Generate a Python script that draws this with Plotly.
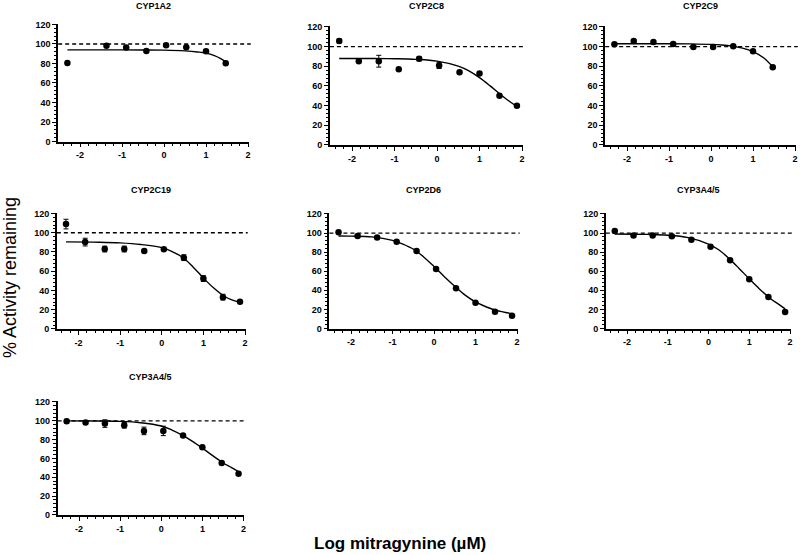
import plotly.graph_objects as go

# ---------------- data ----------------
panel_names = ["CYP1A2", "CYP2C8", "CYP2C9", "CYP2C19", "CYP2D6", "CYP3A4/5", "CYP3A4/5"]

cyp1a2_x = [-2.3, -1.37, -0.9, -0.42, 0.05, 0.53, 1.0, 1.47]
cyp1a2_y = [80.6, 98.1, 96.3, 92.9, 98.7, 96.7, 92.6, 80.2]
cyp1a2_err = [0, 0, 0, 0, 0, 0, 1.5, 0]
cyp1a2_fit_x = [-2.3, -1.5, -1.0, -0.5, 0.0, 0.5, 0.8, 1.0, 1.2, 1.35, 1.49]
cyp1a2_fit_y = [94, 94, 94, 93.9, 93.7, 92.9, 91.8, 90.6, 88.0, 85.0, 81.0]

cyp2c8_x = [-2.3, -1.84, -1.37, -0.9, -0.42, 0.05, 0.53, 1.0, 1.47, 1.88]
cyp2c8_y = [105.8, 85.2, 85.2, 77.1, 87.6, 80.8, 74.0, 72.7, 50.0, 39.9]
cyp2c8_err = [2, 0, 6, 0, 2, 3, 0, 0, 0, 0]
cyp2c8_fit_x = [-2.3, -1.5, -1.0, -0.5, 0.0, 0.5, 0.75, 1.0, 1.25, 1.5, 1.7, 1.88]
cyp2c8_fit_y = [88.0, 87.9, 87.7, 87.1, 85.3, 80.2, 75.4, 68.5, 60.1, 51.1, 44.5, 39.3]

cyp2c9_x = [-2.3, -1.84, -1.37, -0.9, -0.42, 0.05, 0.53, 1.0, 1.47]
cyp2c9_y = [102.4, 105.8, 104.8, 102.8, 99.7, 99.7, 100.4, 95.3, 79.1]
cyp2c9_err = [0, 1.5, 0, 1.5, 0, 0, 0, 0, 0]
cyp2c9_fit_x = [-2.3, -1.5, -1.0, -0.5, 0.0, 0.25, 0.5, 0.75, 1.0, 1.25, 1.48]
cyp2c9_fit_y = [103, 103, 103, 102.8, 102.3, 101.7, 100.6, 98.5, 95.0, 88.7, 79.0]

cyp2c19_x = [-2.3, -1.84, -1.37, -0.9, -0.42, 0.05, 0.53, 1.0, 1.47, 1.88]
cyp2c19_y = [109.0, 90.3, 83.1, 83.1, 81.0, 82.8, 74.1, 52.4, 33.1, 28.3]
cyp2c19_err = [5, 4, 3, 3, 0, 0, 3, 3, 3, 0]
cyp2c19_fit_x = [-2.3, -1.5, -1.0, -0.5, 0.0, 0.25, 0.5, 0.75, 1.0, 1.25, 1.5, 1.7, 1.88]
cyp2c19_fit_y = [90.5, 90.2, 89.5, 87.8, 84.5, 80.5, 74.5, 64.5, 53.0, 42.5, 34.0, 30.0, 28.0]

cyp2d6_x = [-2.3, -1.84, -1.37, -0.9, -0.42, 0.05, 0.53, 1.0, 1.47, 1.88]
cyp2d6_y = [100.8, 96.9, 95.5, 91.0, 81.2, 62.3, 42.3, 26.9, 17.5, 13.3]
cyp2d6_err = [0, 0, 0, 0, 0, 0, 0, 0, 0, 0]
cyp2d6_fit_x = [-2.3, -2.0, -1.5, -1.0, -0.75, -0.5, -0.25, 0.0, 0.25, 0.5, 0.75, 1.0, 1.25, 1.5, 1.88]
cyp2d6_fit_y = [97.0, 96.8, 96.0, 92.3, 88.5, 83.3, 75.0, 65.0, 54.3, 44.3, 35.0, 27.8, 22.8, 19.0, 15.5]

cyp3a4_x = [-2.3, -1.84, -1.37, -0.9, -0.42, 0.05, 0.53, 1.0, 1.47, 1.88]
cyp3a4_y = [102.1, 97.5, 97.5, 96.8, 93.0, 85.6, 71.6, 51.6, 33.0, 17.2]
cyp3a4_err = [0, 0, 0, 0, 0, 0, 0, 0, 0, 0]
cyp3a4_fit_x = [-2.3, -1.5, -1.0, -0.5, 0.0, 0.25, 0.5, 0.75, 1.0, 1.25, 1.5, 1.7, 1.88]
cyp3a4_fit_y = [99.0, 98.6, 97.8, 95.2, 88.5, 82.5, 73.5, 63.0, 52.0, 41.5, 32.0, 26.0, 20.5]

cyp3a4b_x = [-2.3, -1.84, -1.37, -0.9, -0.42, 0.05, 0.53, 1.0, 1.47, 1.88]
cyp3a4b_y = [99.5, 98.1, 97.1, 95.3, 89.3, 89.3, 84.4, 72.0, 55.1, 43.8]
cyp3a4b_err = [2, 1.5, 4, 3, 4, 5, 0, 0, 0, 0]
cyp3a4b_fit_x = [-2.3, -1.5, -1.0, -0.5, 0.0, 0.25, 0.5, 0.75, 1.0, 1.25, 1.5, 1.7, 1.88]
cyp3a4b_fit_y = [100.0, 99.8, 99.4, 98.0, 94.5, 90.5, 85.0, 78.5, 71.0, 63.0, 55.5, 50.5, 46.0]

reference_level = 100
x_ticks = [-2, -1, 0, 1, 2]
y_ticks = [0, 20, 40, 60, 80, 100, 120]

panels = [
    (cyp1a2_x, cyp1a2_y, cyp1a2_err, cyp1a2_fit_x, cyp1a2_fit_y),
    (cyp2c8_x, cyp2c8_y, cyp2c8_err, cyp2c8_fit_x, cyp2c8_fit_y),
    (cyp2c9_x, cyp2c9_y, cyp2c9_err, cyp2c9_fit_x, cyp2c9_fit_y),
    (cyp2c19_x, cyp2c19_y, cyp2c19_err, cyp2c19_fit_x, cyp2c19_fit_y),
    (cyp2d6_x, cyp2d6_y, cyp2d6_err, cyp2d6_fit_x, cyp2d6_fit_y),
    (cyp3a4_x, cyp3a4_y, cyp3a4_err, cyp3a4_fit_x, cyp3a4_fit_y),
    (cyp3a4b_x, cyp3a4b_y, cyp3a4b_err, cyp3a4b_fit_x, cyp3a4b_fit_y),
]

# ---------------- layout (pixel geometry) ----------------
W, H = 800, 555
XMIN, XMAX = -2.52, 2.02
YMIN, YMAX = 0, 121
# pixel of x=-2, x=2, y=120, y=0 ; title centre y
geom = [
    (80.0, 248.0, 24.5, 141.5, 6),
    (352.0, 522.0, 27.0, 145.0, 6),
    (627.0, 795.0, 27.0, 145.0, 6),
    (78.5, 245.0, 213.5, 329.0, 190),
    (351.0, 517.0, 214.0, 328.5, 190),
    (627.0, 790.0, 214.0, 328.5, 190),
    (79.0, 243.5, 402.0, 515.0, 377),
]

FONT = "Liberation Sans, Arial, Helvetica, sans-serif"
fig = go.Figure()
annotations = []
shapes = []

for i, ((px, py, pe, fx, fy), (pm2, pp2, ytop, ybot, ty)) in enumerate(zip(panels, geom)):
    n = "" if i == 0 else str(i + 1)
    ppu = (pp2 - pm2) / 4.0
    left = pm2 + (XMIN + 2) * ppu
    right = pp2 + (XMAX - 2) * ppu
    ppy = (ybot - ytop) / 120.0
    top = ybot - YMAX * ppy
    xd = [left / W, right / W]
    yd = [1 - ybot / H, 1 - top / H]

    fig.add_trace(go.Scatter(
        x=fx, y=fy, mode="lines", line=dict(color="black", width=1.4, shape="spline"),
        xaxis="x" + n, yaxis="y" + n, hoverinfo="skip", cliponaxis=False))
    fig.add_trace(go.Scatter(
        x=px, y=py, mode="markers",
        marker=dict(color="black", size=6.5, symbol="circle"),
        error_y=dict(type="data", array=pe, visible=True, color="black", thickness=1, width=2.5),
        xaxis="x" + n, yaxis="y" + n, cliponaxis=False))

    axis_common = dict(showline=True, linecolor="black", linewidth=1.5, ticks="outside",
                       ticklen=4, tickwidth=1.3, tickcolor="black", showgrid=False,
                       zeroline=False, automargin=False,
                       tickfont=dict(family=FONT, size=9, color="black", weight="bold"))
    fig.update_layout(**{
        "xaxis" + n: dict(domain=xd, range=[XMIN, XMAX], anchor="y" + n, tickvals=x_ticks,
                          ticktext=[str(v) for v in x_ticks],
                          minor=dict(tick0=0, dtick=0.2, ticks="outside", ticklen=2.5,
                                     tickwidth=1.2, tickcolor="black", showgrid=False),
                          **axis_common),
        "yaxis" + n: dict(domain=yd, range=[YMIN, YMAX], anchor="x" + n, tickvals=y_ticks,
                          minor=dict(tick0=0, dtick=4, ticks="outside", ticklen=2.5,
                                     tickwidth=1.2, tickcolor="black", showgrid=False),
                          **axis_common),
    })
    shapes.append(dict(type="line", xref="x" + n + " domain", yref="y" + n,
                       x0=0, x1=1.01, y0=reference_level, y1=reference_level,
                       line=dict(color="black", width=1.3, dash="4px,3px")))
    annotations.append(dict(text="<b>" + panel_names[i] + "</b>", x=(left + right) / 2 / W,
                            y=1 - ty / H, xref="paper", yref="paper", showarrow=False,
                            xanchor="center", yanchor="middle",
                            font=dict(family=FONT, size=9, color="black")))

annotations.append(dict(text="% Activity remaining", x=10 / W, y=1 - 278 / H, xref="paper",
                        yref="paper", showarrow=False, textangle=-90, xanchor="center",
                        yanchor="middle", font=dict(family=FONT, size=18, color="black")))
annotations.append(dict(text="<b>Log mitragynine (µM)</b>", x=400 / W, y=1 - 543 / H,
                        xref="paper", yref="paper", showarrow=False, xanchor="center",
                        yanchor="middle", font=dict(family=FONT, size=17, color="black")))

fig.update_layout(width=W, height=H, margin=dict(l=0, r=0, t=0, b=0),
                  paper_bgcolor="white", plot_bgcolor="white", showlegend=False,
                  annotations=annotations, shapes=shapes)

fig.write_html("out.html", config={"displayModeBar": False},
               post_script="document.body.style.margin='0';document.body.style.overflow='hidden';")
